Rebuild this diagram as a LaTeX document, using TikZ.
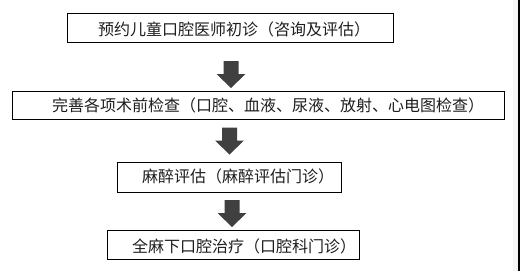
\documentclass[tikz,border=0pt]{standalone}
\usepackage{fontspec}
\newfontfamily\cjk{Noto Sans CJK SC}
\definecolor{arrowgray}{HTML}{404040}
\definecolor{txt}{HTML}{1E1E1E}
\tikzset{
  box/.style={draw=black, line width=1pt, inner sep=0pt, outer sep=0pt},
  lbl/.style={anchor=base west, inner sep=0pt, text=txt, font=\cjk\fontsize{16pt}{16pt}\selectfont},
  blockarrow/.pic={\fill[arrowgray] (-7.5,0) -- (7.5,0) -- (7.5,13) -- (14.5,13) -- (0,27) -- (-14.5,13) -- (-7.5,13) -- cycle;}
}
\begin{document}
\begin{tikzpicture}[x=1pt,y=-1pt]
\useasboundingbox (0,0) rectangle (520,271);
\fill[white] (0,0) rectangle (520,271);
\fill[gray!7] (513,0) rectangle (518,271);
\fill[black] (518,0) rectangle (520,271);
% boxes
\node[box, minimum width=326pt, minimum height=29pt] (b1) at (230,27.5) {};
\node[box, minimum width=492pt, minimum height=28pt] (b2) at (258,105) {};
\node[box, minimum width=224pt, minimum height=30pt] (b3) at (229,177) {};
\node[box, minimum width=252pt, minimum height=29pt] (b4) at (233,244.5) {};
% labels
\node[lbl] (t1) at (98,35) {预约儿童口腔医师初诊（咨询及评估）};
\node[lbl] (t2) at (52,111) {完善各项术前检查（口腔、血液、尿液、放射、心电图检查）};
\node[lbl] (t3) at (142,182) {麻醉评估（麻醉评估门诊）};
\node[lbl] (t4) at (132,252) {全麻下口腔治疗（口腔科门诊）};
% arrows
\pic (a1) at (231,61) {blockarrow};
\pic (a2) at (229.5,127.5) {blockarrow};
\pic (a3) at (232,200) {blockarrow};
\end{tikzpicture}
\end{document}
